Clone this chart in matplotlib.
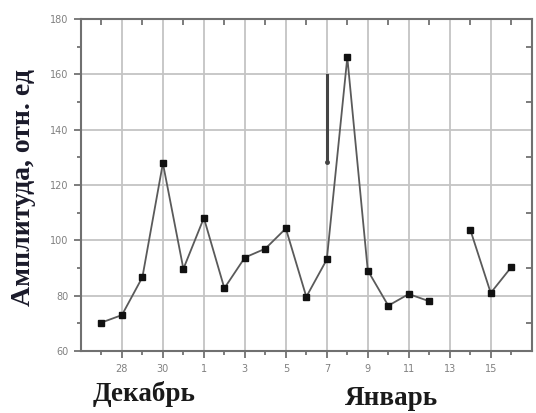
import numpy as np
import matplotlib
matplotlib.use("Agg")
import matplotlib.pyplot as plt

# Days counted from 1 January (Dec 27 = -5 ... Jan 16 = 15)
days = [-5, -4, -3, -2, -1, 0, 1, 2, 3, 4, 5, 6, 7, 8, 9, 10, 11, 12, 13, 14, 15]
amplitude = [70.3, 73.0, 86.7, 127.9, 89.7, 108.1, 82.7, 93.8, 97.0, 104.3,
             79.6, 93.1, 166.1, 89.1, 76.4, 80.6, 78.0, np.nan, 103.9, 81.0, 90.3]

# Marker bar on 7 January
bar_day = 6
bar_range = [159.6, 128.2]

tick_days = [-4, -2, 0, 2, 4, 6, 8, 10, 12, 14]
tick_labels = ["28", "30", "1", "3", "5", "7", "9", "11", "13", "15"]
y_ticks = [60, 80, 100, 120, 140, 160, 180]

fig = plt.figure(figsize=(5.36, 4.13), dpi=100)
ax = fig.add_axes([0.151, 0.150, 0.841, 0.804])

grid_c = "#c4c4c4"
for d in tick_days:
    ax.axvline(d, color=grid_c, lw=1.3, zorder=0)
for v in y_ticks[1:-1]:
    ax.axhline(v, color=grid_c, lw=1.3, zorder=0)

ax.plot(days, amplitude, color="#5a5a5a", lw=1.3, zorder=2)
ax.plot(days, amplitude, ls="none", marker="s", ms=4.5, color="#111111", zorder=3)

ax.plot([bar_day, bar_day], bar_range, color="#444444", lw=2.2, zorder=3)
ax.plot([bar_day], [bar_range[1]], ls="none", marker="o", ms=2.5, color="#444444", zorder=3)

ax.set_xlim(-6, 16)
ax.set_ylim(60, 180)
ax.set_xticks(tick_days)
ax.set_xticklabels(tick_labels)
ax.set_xticks(np.arange(-5, 16, 2), minor=True)
ax.set_yticks(y_ticks)
ax.set_yticks(np.arange(70, 180, 20), minor=True)

lab_c = "#808080"
ax.tick_params(which="major", direction="out", length=5, width=1.2, color="#666666",
               labelsize=7, labelcolor=lab_c, pad=4)
ax.tick_params(which="minor", direction="out", length=3, width=1.2, color="#666666")

for s in ax.spines.values():
    s.set_color("#707070")
    s.set_linewidth(1.5)

# Inward ticks on the top and right sides
top = ax.secondary_xaxis("top")
top.set_xticks(tick_days)
top.set_xticks(np.arange(-5, 16, 2), minor=True)
top.tick_params(which="both", direction="in", labeltop=False, color="#666666", width=1.2)
top.tick_params(which="major", length=0)
top.tick_params(which="minor", length=4)
top.spines["top"].set_visible(False)

right = ax.secondary_yaxis("right")
right.set_yticks(y_ticks)
right.set_yticks(np.arange(70, 180, 20), minor=True)
right.tick_params(which="both", direction="in", labelright=False, color="#666666", width=1.2)
right.tick_params(which="major", length=0)
right.tick_params(which="minor", length=4)
right.spines["right"].set_visible(False)

serif = ["Liberation Serif", "DejaVu Serif"]
fig.text(0.043, 0.545, "Амплитуда, отн. ед", family=serif, fontsize=20, weight="bold",
         color="#1a1a2a", rotation=90, ha="center", va="center")
fig.text(0.269, 0.046, "Декабрь", family=serif, fontsize=19.5, weight="bold",
         color="#1a1a1a", ha="center", va="center")
fig.text(0.730, 0.034, "Январь", family=serif, fontsize=19.5, weight="bold",
         color="#1a1a1a", ha="center", va="center")

fig.savefig("out.png", dpi=100)
